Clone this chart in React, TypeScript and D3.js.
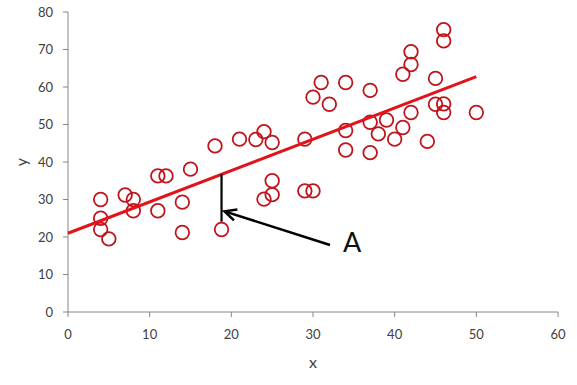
import React from "react";
import * as d3 from "d3";

const xs = [4, 4, 4, 5, 7, 8, 8, 11, 12, 11, 14, 14, 15, 18, 21, 23, 24, 25, 18.8, 24, 25, 25, 29, 30,
  29, 30, 31, 32, 34, 34, 34, 37, 37, 37, 38, 39, 40, 41, 41, 42, 42, 42, 44, 45, 45, 46, 46, 46, 46, 50];
const ys = [30, 25, 22, 19.5, 31.2, 30, 27, 36.3, 36.3, 27, 29.3, 21.2, 38.1, 44.3, 46.1, 46, 48.1, 45.2, 22, 30.1, 31.3, 35, 32.3, 32.3,
  46.1, 57.3, 61.2, 55.4, 61.2, 48.4, 43.2, 59.1, 50.6, 42.5, 47.5, 51.2, 46.1, 49.2, 63.4, 53.2, 66, 69.4, 45.5, 62.3, 55.4, 55.5, 53.2, 72.3, 75.3, 53.2];

// fitted line y = a + b*x, drawn from 0 to 50
const fitIntercept = 21;
const fitSlope = 0.835;
const fitRange = [0, 50];

const xTicks = [0, 10, 20, 30, 40, 50, 60];
const yTicks = [0, 10, 20, 30, 40, 50, 60, 70, 80];

// residual highlighted by the arrow
const residX = 18.8;
const residY = 22;
const labelText = "A";

const W = 577;
const H = 385;
const margin = { top: 12, right: 19, bottom: 73, left: 68 };

const App: React.FC = () => {
  const x = d3.scaleLinear().domain([0, 60]).range([margin.left, W - margin.right]);
  const y = d3.scaleLinear().domain([0, 80]).range([H - margin.bottom, margin.top]);

  const axisColor = "#868686";
  const textColor = "#404040";
  const font = "Lato, 'Open Sans', sans-serif";

  const fitLine = d3.line<number>().x((d) => x(d)).y((d) => y(fitIntercept + fitSlope * d));

  const r = 6.8;
  const rx = x(residX);
  const lineTop = y(fitIntercept + fitSlope * residX);
  const residBottom = y(residY) - r - 1;

  // arrow from label towards the residual line
  const tip = [rx + 3, lineTop + 37];
  const tail = [330, 245];
  const ang = Math.atan2(tail[1] - tip[1], tail[0] - tip[0]);
  const headLen = 13;
  const spread = 0.45;
  const h1 = [tip[0] + headLen * Math.cos(ang + spread), tip[1] + headLen * Math.sin(ang + spread)];
  const h2 = [tip[0] + headLen * Math.cos(ang - spread), tip[1] + headLen * Math.sin(ang - spread)];

  return (
    <svg width={W} height={H} style={{ position: "absolute", left: 0, top: 0, background: "#fff" }} fontFamily={font}>
      {/* y axis */}
      <line x1={x(0)} x2={x(0)} y1={y(0)} y2={y(80)} stroke={axisColor} strokeWidth={1} />
      {yTicks.map((t) => (
        <g key={"y" + t}>
          <line x1={x(0) - 5} x2={x(0)} y1={y(t)} y2={y(t)} stroke={axisColor} />
          <text x={x(0) - 15} y={y(t)} dy="0.35em" textAnchor="end" fontSize={13} fill={textColor}>
            {t}
          </text>
        </g>
      ))}
      {/* x axis */}
      <line x1={x(0)} x2={x(60)} y1={y(0)} y2={y(0)} stroke={axisColor} strokeWidth={1} />
      {xTicks.map((t) => (
        <g key={"x" + t}>
          <line x1={x(t)} x2={x(t)} y1={y(0)} y2={y(0) + 5} stroke={axisColor} />
          <text x={x(t)} y={y(0) + 27} textAnchor="middle" fontSize={13} fill={textColor}>
            {t}
          </text>
        </g>
      ))}
      <text x={x(30)} y={368} textAnchor="middle" fontSize={16} fill={textColor}>
        x
      </text>
      <text transform={`translate(27,${y(40)}) rotate(-90)`} textAnchor="middle" fontSize={16} fill={textColor}>
        y
      </text>

      {/* points */}
      {xs.map((d, i) => (
        <circle key={i} cx={x(d)} cy={y(ys[i])} r={r} fill="none" stroke="#c0141c" strokeWidth={1.8} />
      ))}

      {/* fitted line */}
      <path d={fitLine(fitRange) ?? ""} fill="none" stroke="#e0141a" strokeWidth={3} />

      {/* residual */}
      <line x1={rx} x2={rx} y1={lineTop} y2={residBottom} stroke="#000" strokeWidth={2.2} />

      {/* arrow + label */}
      <line x1={tail[0]} y1={tail[1]} x2={tip[0]} y2={tip[1]} stroke="#000" strokeWidth={2.5} />
      <polyline
        points={`${h1[0]},${h1[1]} ${tip[0]},${tip[1]} ${h2[0]},${h2[1]}`}
        fill="none"
        stroke="#000"
        strokeWidth={2.5}
      />
      <text x={343} y={252} fontSize={27} fill="#111">
        {labelText}
      </text>
    </svg>
  );
};

export default App;
